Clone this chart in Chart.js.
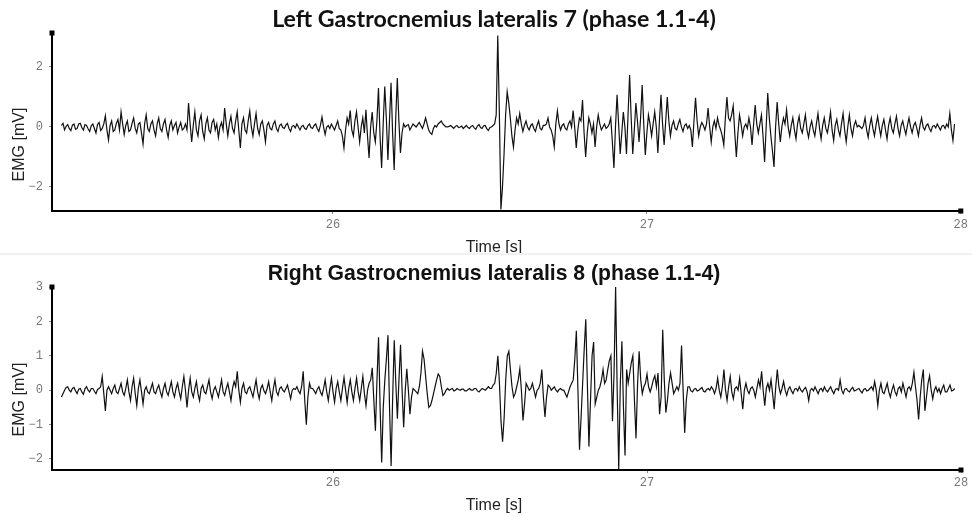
<!DOCTYPE html>
<html>
<head>
<meta charset="utf-8">
<script src="https://cdn.jsdelivr.net/npm/chart.js@4.4.0/dist/chart.umd.min.js"></script>
<style>
  html, body { margin: 0; padding: 0; background: #fff; }
  #wrap { position: relative; width: 972px; height: 517px; overflow: hidden; }
  .panel { position: absolute; left: 0; width: 972px; }
  #sep { position: absolute; left: 0; top: 253px; width: 972px; height: 2px; background: #f1f1f1; }
</style>
</head>
<body>
<div id="wrap">
  <div class="panel" style="top:0;height:253px"><canvas id="topChart" width="972" height="253"></canvas></div>
  <div id="sep"></div>
  <div class="panel" style="top:255px;height:262px"><canvas id="bottomChart" width="972" height="262"></canvas></div>
</div>
<script>
// 샘플링 시간 (s)
const t0 = 25.135;
const dt = 0.005;

// Left Gastrocnemius lateralis 7 (mV), 한 줄 = 0.1 s
const leftGL7 = [
  0.05, 0.12, -0.1, 0.02, 0.08, -0.05, -0.12, 0.06, 0.1, -0.08, -0.05, 0.1, 0.12, -0.02, -0.1, 0.08, 0.05, -0.06, -0.15, 0.04,
  0.1, -0.05, -0.2, 0.08, 0.15, -0.12, -0.05, 0.1, 0.37, -0.1, -0.43, 0.05, 0.2, -0.15, -0.1, 0.12, 0.25, -0.1, 0.5, 0.1,
  -0.25, 0.05, 0.2, -0.15, -0.1, 0.12, 0.3, -0.05, -0.2, 0.1, 0.15, -0.2, -0.57, 0.1, 0.4, -0.05, -0.15, 0.1, 0.2, -0.1,
  -0.3, 0.1, 0.3, -0.05, -0.15, 0.1, 0.25, -0.1, -0.35, 0.05, 0.2, -0.1, 0.05, 0.15, -0.2, 0.0, 0.15, -0.1, -0.05, 0.1,
  -0.1, 0.8, 0.1, -0.5, 0.05, 0.5, -0.1, -0.3, 0.2, 0.4, -0.15, -0.4, 0.1, 0.3, -0.1, -0.2, 0.15, 0.25, -0.1, 0.1,
  -0.35, 0.0, 0.15, -0.1, 0.63, 0.1, -0.3, 0.1, 0.35, -0.05, -0.2, 0.2, 0.5, -0.1, -0.7, 0.1, 0.3, -0.1, -0.2, 0.2,
  0.53, 0.0, -0.3, 0.1, 0.45, -0.05, -0.25, 0.1, 0.2, -0.1, -0.5, 0.05, 0.15, -0.05, -0.1, 0.1, 0.2, -0.05, -0.15, 0.05,
  0.1, -0.02, -0.05, 0.06, 0.12, -0.05, -0.15, 0.02, 0.05, -0.03, 0.1, 0.0, -0.1, 0.02, 0.05, -0.05, -0.08, 0.04, 0.1, -0.02,
  -0.05, 0.05, 0.1, -0.05, -0.15, 0.05, 0.33, 0.0, -0.25, 0.0, 0.05, -0.05, 0.1, 0.0, -0.1, 0.05, 0.2, -0.05, -0.1, -0.3,
  -0.7, -0.1, 0.3, 0.1, 0.55, -0.1, -0.3, 0.2, 0.5, 0.0, -0.5, 0.0, 0.3, -0.2, 0.57, -0.3, -1.03, 0.0, 0.5, -0.2,
  -0.5, 0.2, 1.3, -0.3, -1.37, 0.1, 1.35, 0.3, -1.1, 0.2, 1.47, -0.2, -1.43, 0.3, 1.63, 0.2, -0.87, -0.2, 0.1, 0.0,
  0.05, 0.08, -0.1, 0.0, 0.1, 0.05, 0.0, 0.08, 0.15, 0.05, -0.05, 0.1, 0.3, 0.1, -0.1, -0.2, -0.25, -0.05, 0.05, 0.0,
  0.1, 0.15, 0.2, 0.1, 0.05, 0.0, 0.0, 0.02, 0.05, 0.0, -0.05, 0.02, 0.05, -0.02, 0.0, 0.03, -0.05, 0.0, 0.05, -0.02,
  -0.05, 0.02, 0.05, -0.03, -0.08, 0.03, 0.08, -0.02, -0.05, 0.04, 0.05, -0.06, -0.12, -0.02, 0.0, 0.05, 0.1, 0.4, 3.05, 0.5,
  -2.75, -2.0, -0.9, 0.4, 1.17, 0.8, 0.3, -0.3, -0.67, -0.1, 0.3, 0.1, 0.45, 0.1, -0.15, 0.05, 0.2, 0.0, -0.1, 0.05,
  0.1, -0.05, -0.15, 0.05, 0.2, -0.05, -0.1, 0.05, 0.05, 0.1, 0.3, 0.0, -0.1, -0.3, -0.67, 0.1, 0.53, 0.1, -0.1, 0.05,
  0.1, -0.05, -0.1, 0.1, 0.2, 0.0, 0.55, 0.0, -0.7, -0.1, 0.3, 0.2, 0.9, -0.2, -1.0, -0.2, 0.3, 0.1, -0.2, 0.1,
  -0.67, 0.0, 0.4, 0.1, -0.1, 0.0, 0.1, -0.05, 0.0, 0.1, 0.3, -0.5, -1.37, 0.0, 1.07, 0.1, -0.9, -0.2, 0.5, 0.0,
  -0.9, 0.4, 1.73, 0.3, -0.9, -0.1, 0.8, 0.2, -0.5, 0.3, 1.4, 0.1, -0.93, -0.2, 0.4, 0.1, -0.3, 0.1, 0.5, 0.0,
  -0.87, 0.2, 1.07, 0.1, -0.6, 0.2, 1.0, 0.2, -0.3, 0.05, 0.2, -0.05, -0.1, 0.1, 0.25, 0.0, -0.15, 0.05, 0.1, -0.05,
  0.05, -0.1, -0.67, 0.2, 0.97, 0.2, -0.3, 0.0, 0.15, 0.05, -0.1, 0.1, 0.63, 0.0, -0.5, 0.0, 0.2, -0.05, 0.3, 0.05,
  -0.1, -0.3, -0.6, 0.3, 1.0, 0.3, 0.2, 0.4, 0.7, -0.2, -1.0, -0.2, 0.4, 0.1, -0.3, 0.0, 0.1, -0.05, 0.3, 0.0,
  -0.6, 0.1, 0.73, 0.1, -0.2, 0.1, 0.4, -0.3, -1.17, 0.0, 1.13, 0.3, -0.3, -0.8, -1.33, 0.0, 0.83, 0.1, -0.5, 0.0,
  0.3, 0.1, 0.57, 0.0, -0.3, 0.05, 0.3, -0.1, -0.4, 0.1, 0.35, -0.05, -0.2, 0.1, 0.4, -0.1, -0.35, 0.0, 0.2, -0.1,
  -0.3, 0.1, 0.45, -0.05, -0.4, 0.05, 0.3, -0.05, -0.2, 0.1, 0.5, -0.1, -0.45, 0.05, 0.25, -0.1, -0.3, 0.1, 0.45, -0.1,
  -0.5, 0.0, 0.4, -0.05, -0.3, 0.05, 0.2, 0.0, 0.05, 0.0, -0.05, 0.05, 0.3, -0.1, -0.35, 0.05, 0.3, -0.05, -0.3, 0.05,
  0.35, 0.0, -0.3, 0.05, 0.25, -0.1, -0.4, 0.05, 0.3, -0.05, -0.2, 0.1, 0.35, -0.05, -0.3, 0.05, 0.2, -0.05, -0.25, 0.05,
  0.3, 0.0, -0.2, 0.05, 0.15, -0.05, -0.3, 0.05, 0.3, 0.0, -0.1, 0.05, 0.1, -0.05, -0.15, 0.02, 0.05, -0.03, 0.1, 0.0,
  -0.1, 0.03, 0.05, -0.05, 0.1, 0.0, 0.45, -0.1, -0.45, 0.1
];

// Right Gastrocnemius lateralis 8 (mV), 한 줄 = 0.1 s
const rightGL8 = [
  -0.2, -0.1, 0.0, 0.08, 0.1, 0.0, -0.05, 0.05, 0.08, -0.02, -0.1, 0.03, 0.05, -0.05, -0.12, 0.04, 0.1, 0.0, -0.05, 0.05,
  0.05, -0.03, -0.1, 0.02, 0.05, 0.1, 0.4, -0.1, -0.6, 0.0, 0.1, 0.0, -0.1, 0.05, 0.15, -0.05, -0.1, 0.05, 0.2, -0.05,
  -0.15, 0.05, 0.3, -0.05, -0.3, 0.1, 0.35, -0.1, -0.45, 0.05, 0.3, -0.05, -0.4, 0.0, 0.1, -0.05, -0.1, 0.05, 0.2, -0.05,
  -0.1, 0.05, 0.15, -0.05, -0.2, 0.05, 0.2, -0.05, -0.15, 0.05, 0.25, -0.05, -0.2, 0.05, 0.2, -0.05, -0.25, 0.1, 0.4, 0.0,
  -0.5, 0.0, 0.35, -0.05, -0.2, 0.05, 0.25, -0.1, -0.3, 0.05, 0.15, -0.05, -0.1, 0.1, 0.3, -0.05, -0.25, 0.0, 0.1, -0.05,
  -0.2, 0.05, 0.3, -0.05, -0.15, 0.05, 0.2, -0.05, -0.3, 0.05, 0.25, 0.1, 0.55, 0.0, -0.35, 0.05, 0.2, -0.05, -0.1, 0.05,
  0.1, -0.05, -0.2, 0.05, 0.3, -0.05, -0.25, 0.05, 0.15, -0.02, -0.1, 0.05, 0.25, -0.05, -0.3, 0.05, 0.3, -0.05, -0.15, 0.05,
  0.1, 0.0, -0.05, 0.05, 0.15, -0.05, -0.25, 0.0, 0.05, 0.02, 0.1, -0.02, -0.1, 0.1, 0.55, -0.3, -1.0, -0.2, 0.2, 0.05,
  0.05, -0.02, -0.1, 0.03, 0.1, -0.05, -0.15, 0.05, 0.3, -0.05, -0.3, 0.05, 0.35, -0.05, -0.35, 0.05, 0.25, -0.05, -0.3, 0.05,
  0.37, 0.0, -0.36, 0.05, 0.3, -0.05, -0.3, 0.05, 0.35, -0.05, -0.3, 0.05, 0.4, -0.1, -0.45, 0.0, 0.2, 0.3, 0.65, -0.3,
  -1.18, 0.3, 1.54, -0.5, -2.1, -0.5, 0.3, 0.9, 1.6, -0.5, -2.2, -0.2, 1.45, 0.2, -0.83, 0.3, 1.32, 0.0, -1.08, 0.0,
  0.62, 0.0, -0.7, -0.2, 0.05, 0.0, -0.05, -0.1, 0.1, 0.5, 1.13, 0.9, 0.4, -0.1, -0.5, -0.45, -0.3, -0.1, 0.1, 0.3,
  0.47, 0.4, 0.1, -0.15, -0.1, 0.0, 0.05, 0.0, 0.03, 0.05, -0.02, 0.0, 0.05, 0.02, 0.0, 0.03, 0.03, -0.02, -0.02, 0.02,
  0.05, 0.0, 0.0, 0.05, 0.05, -0.02, -0.05, 0.0, 0.05, 0.03, 0.0, 0.05, 0.1, 0.05, 0.05, 0.15, 0.2, 0.5, 1.0, 0.2,
  -0.9, -1.5, -0.8, 0.3, 1.0, 1.13, 0.6, 0.1, -0.2, -0.1, 0.1, 0.3, 0.62, 0.0, -0.88, -0.4, 0.2, 0.1, 0.0, 0.05,
  0.2, 0.0, -0.2, 0.0, 0.05, 0.2, 0.6, -0.2, -0.78, -0.2, 0.15, 0.1, 0.0, 0.05, 0.1, 0.0, -0.05, 0.02, 0.05, 0.0,
  0.0, -0.1, -0.2, -0.05, 0.1, 0.2, 0.3, 0.9, 1.73, 0.0, -1.73, -0.8, 0.2, 1.2, 2.06, 0.2, -1.64, -0.3, 1.0, 1.4,
  -0.4, -0.2, 0.0, 0.1, 0.3, 0.6, 0.2, 0.3, 0.6, 0.86, 1.0, -0.9, 0.5, 3.0, 0.0, -2.3, 0.2, 1.42, -0.5, -1.9,
  0.6, 0.2, 0.5, 0.8, 1.0, -0.3, -1.4, 0.2, 1.13, 0.3, -0.1, 0.1, 0.2, 0.47, 0.1, -0.05, 0.1, 0.3, 0.42, 0.1,
  0.5, -0.7, -0.2, 1.76, 0.3, -0.65, -0.3, 0.2, 0.5, 0.2, -0.1, 0.0, 0.1, 0.0, 0.2, 1.3, 0.0, -1.24, -0.3, 0.1,
  0.1, -0.02, -0.05, 0.03, 0.05, -0.02, 0.0, 0.04, 0.08, -0.03, -0.05, 0.02, 0.05, 0.0, 0.1, 0.03, -0.1, 0.05, 0.35, 0.0,
  -0.2, 0.1, 0.6, 0.0, -0.3, 0.1, 0.4, -0.05, -0.25, 0.05, 0.1, 0.0, 0.35, -0.1, -0.55, 0.0, 0.2, 0.0, -0.1, 0.05,
  0.1, 0.0, -0.2, 0.05, 0.3, 0.1, 0.55, 0.0, -0.45, 0.05, 0.2, 0.0, 0.3, -0.1, -0.55, 0.1, 0.6, 0.1, -0.1, 0.05,
  0.25, 0.0, -0.15, 0.03, 0.1, -0.02, -0.1, 0.03, 0.05, -0.02, 0.1, 0.0, -0.05, 0.03, 0.08, -0.05, -0.3, 0.0, 0.05, -0.02,
  0.1, 0.0, -0.1, 0.02, 0.05, -0.03, 0.1, 0.0, -0.05, 0.03, 0.1, -0.02, -0.1, 0.02, 0.05, 0.0, 0.3, 0.0, -0.1, 0.03,
  0.05, -0.02, -0.05, 0.03, 0.08, -0.02, 0.0, 0.03, 0.05, -0.03, -0.08, 0.02, 0.05, -0.02, 0.0, 0.05, 0.1, 0.0, 0.25, 0.0,
  -0.45, 0.0, 0.2, -0.05, -0.1, 0.05, 0.2, -0.05, -0.2, 0.0, 0.15, -0.05, -0.15, 0.05, 0.1, -0.05, 0.2, 0.0, -0.2, 0.05,
  0.1, 0.0, 0.2, 0.52, 0.1, -0.3, -0.85, -0.2, 0.3, 0.6, -0.6, -0.2, 0.2, 0.42, 0.0, -0.25, 0.0, 0.1, -0.05, 0.05,
  -0.1, 0.05, 0.15, -0.05, -0.05, 0.05, 0.15, -0.02, 0.0, 0.05
];

// 눈금
const xTicks = [26, 27, 28];
const yTicksLeft = [-2, 0, 2];
const yTicksRight = [-2, -1, 0, 1, 2, 3];

const titleLeft = 'Left Gastrocnemius lateralis 7 (phase 1.1-4)';
const titleRight = 'Right Gastrocnemius lateralis 8 (phase 1.1-4)';

const monoFont = '"Liberation Mono", "DejaVu Sans Mono", monospace';
const sansFont = '"Liberation Sans", Arial, sans-serif';

// 축 끝 사각형, 제목, 축 제목 그리기
const decor = {
    id: 'decor',
    afterDraw(chart, args, o) {
        const { ctx, chartArea: a } = chart;
        ctx.save();
        ctx.fillStyle = '#000';
        ctx.fillRect(a.left - 2.5, a.top - 2.5, 5, 5);
        ctx.fillRect(a.right - 2.5, a.bottom - 2.5, 5, 5);

        // 제목 (폭에 맞춰 크기 조정)
        ctx.font = `bold 20px ${o.titleFont}`;
        const w = ctx.measureText(o.title).width;
        const size = 20 * o.titleWidth / w;
        ctx.font = `bold ${size}px ${o.titleFont}`;
        ctx.fillStyle = '#111';
        ctx.textAlign = 'center';
        ctx.textBaseline = 'alphabetic';
        ctx.fillText(o.title, 494, o.titleY);

        ctx.font = `16px ${sansFont}`;
        ctx.fillStyle = '#222';
        ctx.fillText('Time [s]', 494, o.xTitleY);

        ctx.translate(20, o.yTitleY);
        ctx.rotate(-Math.PI / 2);
        ctx.textBaseline = 'middle';
        ctx.fillText('EMG [mV]', 0, 0);
        ctx.restore();
    }
};

function makeChart(id, values, cfg) {
    const points = values.map((v, i) => ({ x: t0 + i * dt, y: v }));
    return new Chart(document.getElementById(id), {
        type: 'line',
        data: {
            datasets: [{
                data: points,
                borderColor: '#111',
                borderWidth: 1.2,
                pointRadius: 0,
                tension: 0,
                fill: false
            }]
        },
        options: {
            responsive: false,
            animation: false,
            devicePixelRatio: 1,
            events: [],
            layout: { padding: { left: 0, top: cfg.top, right: 11, bottom: 0 } },
            plugins: {
                legend: { display: false },
                tooltip: { enabled: false },
                decor: cfg.decor
            },
            scales: {
                x: {
                    type: 'linear',
                    min: 25.105,
                    max: 28,
                    afterBuildTicks: s => { s.ticks = xTicks.map(v => ({ value: v })); },
                    afterFit: s => { s.height = cfg.xHeight; },
                    border: { display: true, color: '#000', width: 2 },
                    grid: { drawOnChartArea: false, drawTicks: true, tickLength: 3, color: '#888' },
                    ticks: {
                        font: { family: monoFont, size: 12 },
                        color: '#777',
                        padding: cfg.xPad,
                        maxRotation: 0,
                        callback: v => String(v)
                    }
                },
                y: {
                    min: cfg.yMin,
                    max: cfg.yMax,
                    afterBuildTicks: s => { s.ticks = cfg.yTicks.map(v => ({ value: v })); },
                    afterFit: s => { s.width = 52; },
                    border: { display: true, color: '#000', width: 2 },
                    grid: { drawOnChartArea: false, drawTicks: true, tickLength: 3, color: '#888' },
                    ticks: {
                        font: { family: monoFont, size: 12 },
                        color: '#777',
                        padding: 6,
                        callback: v => (v < 0 ? '\u2212' + Math.abs(v) : String(v))
                    }
                }
            }
        },
        plugins: [decor]
    });
}

makeChart('topChart', leftGL7, {
    top: 33, xHeight: 42, xPad: 4, yMin: -2.8, yMax: 3.13, yTicks: yTicksLeft,
    decor: { title: titleLeft, titleFont: 'Lato, "Open Sans", sans-serif', titleWidth: 444, titleY: 26.5, xTitleY: 251.5, yTitleY: 144.5 }
});

makeChart('bottomChart', rightGL8, {
    top: 32, xHeight: 47, xPad: 3, yMin: -2.32, yMax: 3.0, yTicks: yTicksRight,
    decor: { title: titleRight, titleFont: sansFont, titleWidth: 453, titleY: 25, xTitleY: 254.5, yTitleY: 144.5 }
});
</script>
</body>
</html>
